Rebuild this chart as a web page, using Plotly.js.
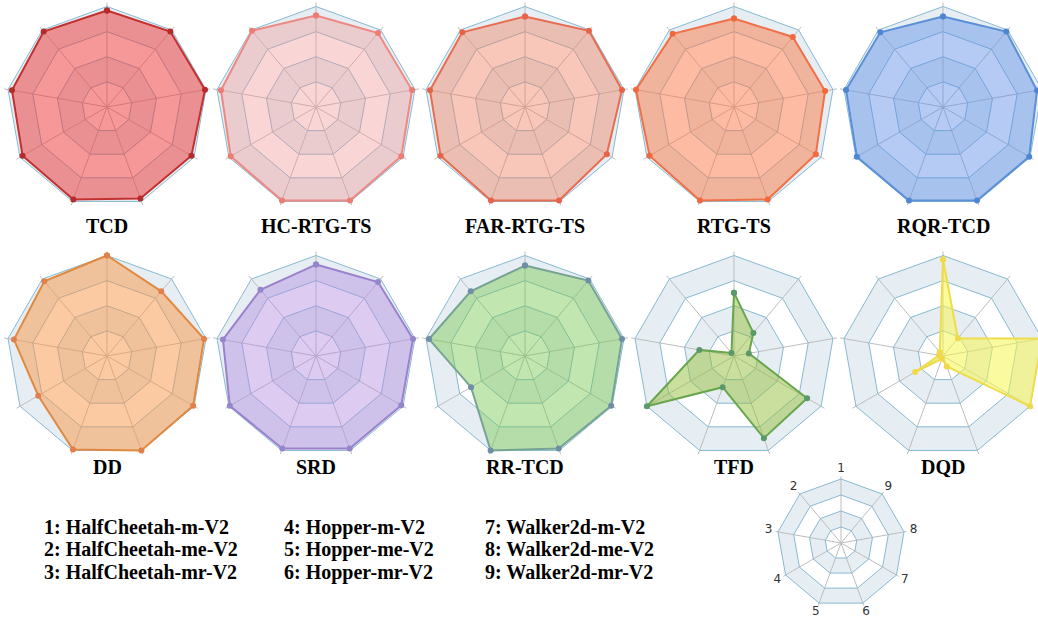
<!DOCTYPE html>
<html><head><meta charset="utf-8">
<script src="https://cdn.plot.ly/plotly-3.0.1.min.js"></script>
<style>html,body{margin:0;padding:0;overflow:hidden;background:#fff}
#wrap{width:1038px;height:617px;overflow:hidden;position:relative}
#chart{width:1060px;height:640px}</style>
</head><body><div id="wrap"><div id="chart"></div></div><script>
// ---- data ----
const categories = ['1','2','3','4','5','6','7','8','9'];
const chartNames = ['TCD','HC-RTG-TS','FAR-RTG-TS','RTG-TS','RQR-TCD','DD','SRD','RR-TCD','TFD','DQD'];
const TCD        = [0.96, 0.98, 0.96, 0.97, 0.98, 0.97, 0.97, 0.99, 0.98];
const HC_RTG_TS  = [0.91, 0.99, 0.96, 0.98, 0.99, 0.99, 0.98, 0.97, 0.96];
const FAR_RTG_TS = [0.90, 0.97, 0.96, 0.97, 0.99, 0.99, 0.94, 0.98, 0.99];
const RTG_TS     = [0.88, 0.95, 0.99, 0.97, 0.99, 0.98, 0.94, 0.92, 0.91];
const RQR_TCD    = [0.90, 0.97, 0.98, 0.99, 0.99, 0.99, 0.99, 0.95, 0.98];
const DD         = [1.00, 0.97, 0.94, 0.79, 0.99, 1.00, 0.99, 0.98, 0.84];
const SRD        = [0.91, 0.86, 0.94, 0.99, 0.98, 0.98, 0.98, 0.98, 0.96];
const RR_TCD     = [0.90, 0.84, 0.97, 0.62, 1.00, 0.98, 0.99, 0.98, 0.98];
const TFD        = [0.63, 0.04, 0.35, 1.00, 0.33, 0.87, 0.84, 0.15, 0.30];
const DQD        = [0.96, 0.05, 0.04, 0.32, 0.03, 0.11, 1.00, 1.00, 0.23];
const seriesValues = [TCD, HC_RTG_TS, FAR_RTG_TS, RTG_TS, RQR_TCD, DD, SRD, RR_TCD, TFD, DQD];
const legendLabels = [
  '1: HalfCheetah-m-V2','2: HalfCheetah-me-V2','3: HalfCheetah-mr-V2',
  '4: Hopper-m-V2','5: Hopper-me-V2','6: Hopper-mr-V2',
  '7: Walker2d-m-V2','8: Walker2d-me-V2','9: Walker2d-mr-V2'];
const ringLevels = [0.25, 0.5, 0.75, 1.0];

// ---- styles ----
const lineColors = ['#c3302f','#ee8882','#e86c52','#f07048','#5b8fd8','#df8a40','#9b80cc','#76a392','#68a64c','#f0dc48'];
const markerColors = ['#b52a2a','#ec7c74','#e6634a','#f0683e','#4f86d2','#e0804a','#9586cc','#6f8fa5','#5a9a6a','#f0d84a'];
const fillColors = ['rgba(240,50,50,0.5)','rgba(240,150,150,0.4)','rgba(240,130,100,0.45)','rgba(250,120,70,0.5)',
  'rgba(90,140,230,0.45)','rgba(250,150,70,0.5)','rgba(180,140,225,0.45)','rgba(120,200,80,0.45)',
  'rgba(150,190,60,0.5)','rgba(245,245,80,0.55)'];
const bandColor = '#e6eef3';
const ringColor = '#88b9d1';
const spokeColor = '#bdbdbd';

const W = 1060, H = 640;
const R = 100.5, RMAX = 1.05;
const colX = [107, 316, 525, 734, 943];
const rowY = [107, 356];
const titleY = [226, 467];

const traces = [];
const layout = {
  width: W, height: H, margin: {l:0,r:0,t:0,b:0},
  paper_bgcolor: '#fff', showlegend: false,
  font: {family: 'Liberation Serif'},
  annotations: []
};

function closed(arr){ return arr.concat([arr[0]]); }

function addGrid(sub){
  const th = closed(categories);
  ringLevels.slice().reverse().forEach((lv, i) => {
    traces.push({type:'scatterpolar', subplot: sub, theta: th, r: th.map(()=>lv),
      mode:'lines', fill:'toself', fillcolor: (i % 2 === 0) ? bandColor : '#ffffff',
      line:{width:0, color:'rgba(0,0,0,0)'}, hoverinfo:'skip'});
  });
  const sth = [], sr = [];
  categories.forEach(c => { sth.push(c, c, null); sr.push(0, 1.04, null); });
  traces.push({type:'scatterpolar', subplot: sub, theta: sth, r: sr, mode:'lines',
    line:{width:1, color: spokeColor}, hoverinfo:'skip', connectgaps:false});
  const rth = [], rr = [];
  ringLevels.forEach(lv => { th.forEach(c => { rth.push(c); rr.push(lv); }); rth.push(null); rr.push(null); });
  traces.push({type:'scatterpolar', subplot: sub, theta: rth, r: rr, mode:'lines',
    line:{width:1, color: ringColor}, hoverinfo:'skip', connectgaps:false});
}

function polarLayout(cx, cy, rad, rmax){
  const half = rad * rmax;
  return {
    domain: {x: [(cx-half)/W, (cx+half)/W], y: [1-(cy+half)/H, 1-(cy-half)/H]},
    bgcolor: 'rgba(0,0,0,0)', gridshape: 'linear',
    radialaxis: {visible: false, range: [0, rmax], autorange: false},
    angularaxis: {type:'category', categoryarray: categories, rotation: 90, direction: 'counterclockwise',
      showgrid: false, showline: false, ticks: '', showticklabels: false}
  };
}

chartNames.forEach((name, i) => {
  const sub = i === 0 ? 'polar' : 'polar' + (i+1);
  const cx = colX[i % 5], cy = rowY[Math.floor(i/5)];
  layout[sub] = polarLayout(cx, cy, R, RMAX);
  addGrid(sub);
  traces.push({type:'scatterpolar', subplot: sub, theta: closed(categories), r: closed(seriesValues[i]),
    mode:'lines+markers', fill:'toself', fillcolor: fillColors[i],
    line:{color: lineColors[i], width: 2}, marker:{size: 6, color: markerColors[i]}, hoverinfo:'skip'});
  layout.annotations.push({text: name, x: cx/W, y: 1 - titleY[Math.floor(i/5)]/H, xref:'paper', yref:'paper',
    xanchor:'center', yanchor:'middle', showarrow:false,
    font:{family:'Liberation Serif', size: 20, color:'#000', weight:'bold'}});
});

// legend radar with axis numbers
layout['polar11'] = polarLayout(841, 543, 64, 1.25);
addGrid('polar11');
traces.push({type:'scatterpolar', subplot:'polar11', theta: categories, r: categories.map(()=>1.15),
  mode:'text', text: categories, textposition:'middle center', cliponaxis:false,
  textfont:{family:'DejaVu Sans', size: 12, color:'#333'}, hoverinfo:'skip'});

// legend texts
const legX = [42, 282, 483], legY = [527, 549, 572];
legendLabels.forEach((t, i) => {
  layout.annotations.push({text: t, x: legX[Math.floor(i/3)]/W, y: 1 - legY[i%3]/H, xref:'paper', yref:'paper',
    xanchor:'left', yanchor:'middle', showarrow:false,
    font:{family:'Liberation Serif', size: 20, color:'#000', weight:'bold'}});
});

Plotly.newPlot('chart', traces, layout, {displayModeBar:false, staticPlot:true});
</script></body></html>
